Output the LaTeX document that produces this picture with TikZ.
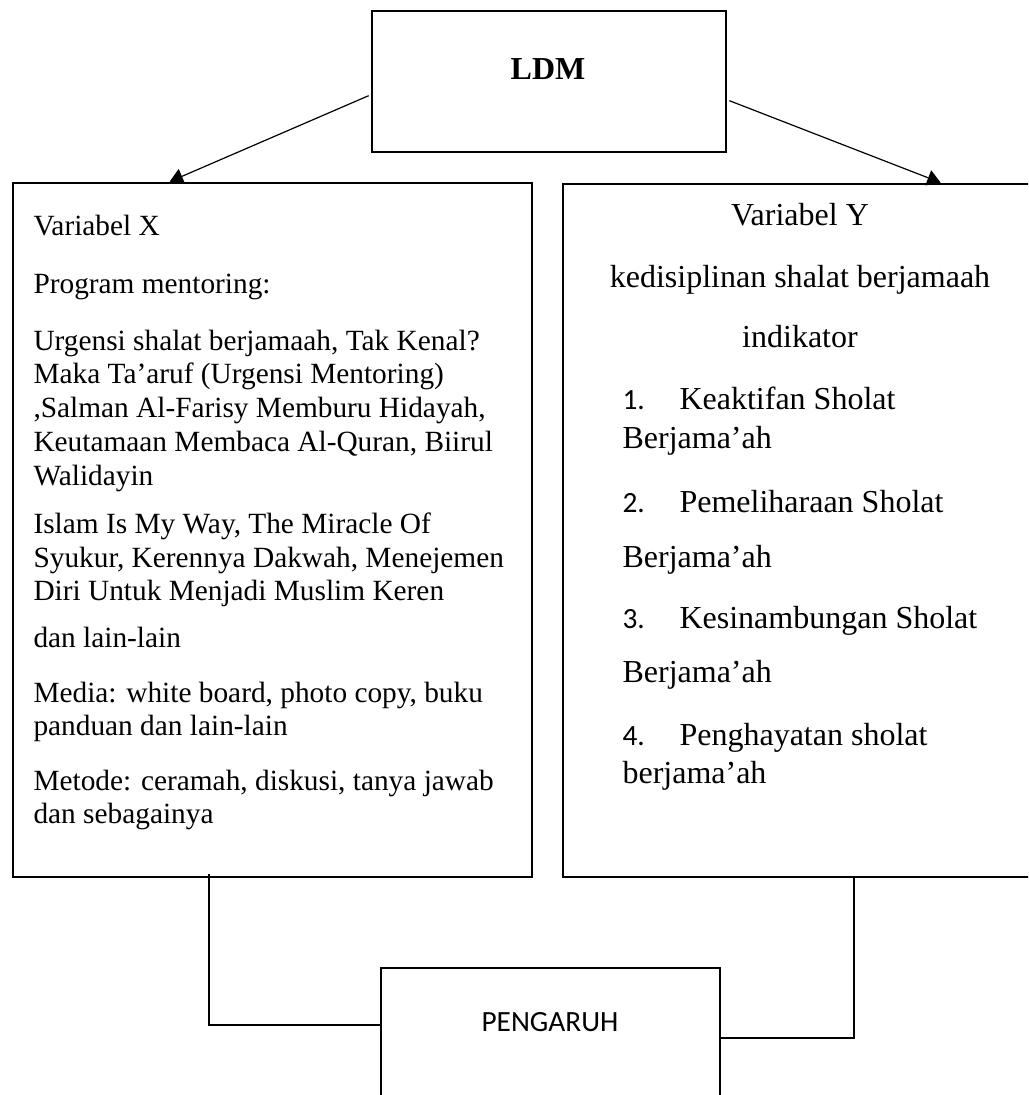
\documentclass[tikz,border=0pt]{standalone}
\usepackage{fontspec}
\setmainfont{Liberation Serif}
\newfontfamily\calib{Carlito}
\usetikzlibrary{arrows.meta,calc,fit}
\begin{document}
\begin{tikzpicture}[x=0.375pt,y=-0.375pt,
  box/.style={draw,line width=1pt,inner sep=0pt},
  arr/.style={line width=0.45pt,-{Triangle[length=5pt,width=6pt]}},
  conn/.style={line width=0.8pt},
  ltxt/.style={anchor=base west,inner sep=0pt,font=\fontsize{11}{12.6}\selectfont},
  rtxt/.style={anchor=base west,inner sep=0pt,font=\fontsize{12}{14}\selectfont},
  ctxt/.style={anchor=base,inner sep=0pt,font=\fontsize{12}{14}\selectfont},
  num/.style={anchor=base west,inner sep=0pt,font=\calib\fontsize{11}{13}\selectfont}]
\clip (0,0) rectangle (1028,1095);
\fill[white] (0,0) rectangle (1028,1095);
% boxes
\node[box,fit={(372,11) (726,152)}] (ldm) {};
\node[anchor=base,inner sep=0pt,font=\bfseries\fontsize{12}{14}\selectfont] (ldmt) at (548,80) {LDM};
\node[box,fit={(13,183) (532,877)}] (varx) {};
\node[box,fit={(563,184) (1040,877)}] (vary) {};
\node[box,fit={(381,968) (720,1140)}] (peng) {};
\node[anchor=base,inner sep=0pt,font=\calib\fontsize{11}{13}\selectfont] (pengt) at (550,1031) {PENGARUH};
% arrows
\draw[arr] ($(ldm.north west)+(-2,86)$) -- ($(varx.north west)+(158,0)$);
\draw[arr] ($(ldm.north east)+(2,91)$) -- ($(vary.north west)+(379,0)$);
% connectors
\coordinate (lc) at ($(varx.south west)+(197,-4)$);
\draw[conn] (lc) |- ($(peng.north west)+(0,58)$);
\coordinate (rc) at ($(vary.south west)+(292,0)$);
\draw[conn] (rc) |- ($(peng.north east)+(0,71)$);
% left text
\node[ltxt] (x1) at (33,235) {Variabel X};
\node[ltxt] (x2) at (33,293) {Program mentoring:};
\node[ltxt] (x3) at (33,350) {Urgensi shalat berjamaah, Tak Kenal?};
\node[ltxt] (x4) at (33,383) {Maka Ta’aruf (Urgensi Mentoring)};
\node[ltxt] (x5) at (33,417) {,Salman Al-Farisy Memburu Hidayah,};
\node[ltxt] (x6) at (33,451) {Keutamaan Membaca Al-Quran, Biirul};
\node[ltxt] (x7) at (33,485) {Walidayin};
\node[ltxt] (x8) at (33,533) {Islam Is My Way, The Miracle Of};
\node[ltxt] (x9) at (33,567) {Syukur, Kerennya Dakwah, Menejemen};
\node[ltxt] (x10) at (33,600) {Diri Untuk Menjadi Muslim Keren};
\node[ltxt] (x11) at (33,647) {dan lain-lain};
\node[ltxt] (x12) at (33,702) {Media: white board, photo copy, buku};
\node[ltxt] (x13) at (33,735) {panduan dan lain-lain};
\node[ltxt] (x14) at (33,790) {Metode: ceramah, diskusi, tanya jawab};
\node[ltxt] (x15) at (33,823) {dan sebagainya};
% right text
\node[ctxt] (y1) at (800,225) {Variabel Y};
\node[ctxt] (y2) at (800,287) {kedisiplinan shalat berjamaah};
\node[ctxt] (y3) at (800,347) {indikator};
\node[num] (n1) at (622,409) {1.};
\node[rtxt] (y4) at (679,409) {Keaktifan Sholat};
\node[rtxt] (y5) at (622,448) {Berjama’ah};
\node[num] (n2) at (622,512) {2.};
\node[rtxt] (y6) at (679,512) {Pemeliharaan Sholat};
\node[rtxt] (y7) at (622,567) {Berjama’ah};
\node[num] (n3) at (622,628) {3.};
\node[rtxt] (y8) at (679,628) {Kesinambungan Sholat};
\node[rtxt] (y9) at (622,682) {Berjama’ah};
\node[num] (n4) at (622,745) {4.};
\node[rtxt] (y10) at (679,745) {Penghayatan sholat};
\node[rtxt] (y11) at (622,783) {berjama’ah};
\end{tikzpicture}
\end{document}
